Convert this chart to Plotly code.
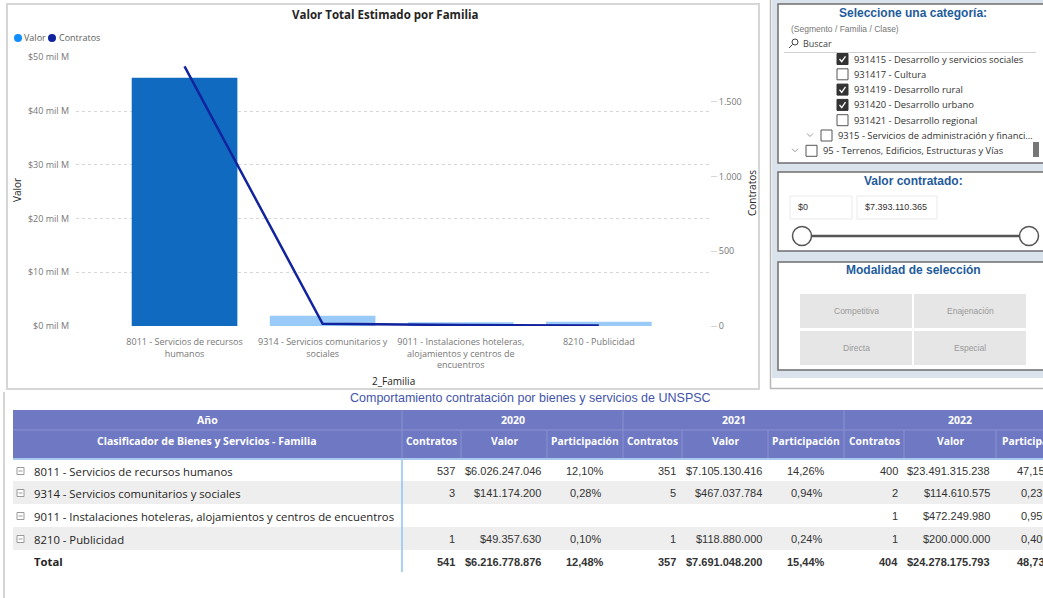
import plotly.graph_objects as go

W, H = 1043, 598

# ---- main chart data ----
familias = ["8011", "9314", "9011", "8210"]
familias_eje = [
    "8011 - Servicios de recursos<br>humanos",
    "9314 - Servicios comunitarios y<br>sociales",
    "9011 - Instalaciones hoteleras,<br>alojamientos y centros de<br>encuentros",
    "8210 - Publicidad",
]
valor_familia = [46.2e9, 1.9e9, 0.7e9, 0.8e9]
contratos_familia = [1735, 15, 6, 4]
colores_barras = ["#106BC0", "#9ACBF8", "#9ACBF8", "#9ACBF8"]

valor_ticks = [0, 10e9, 20e9, 30e9, 40e9, 50e9]
valor_ticktext = ["$0 mil M", "$10 mil M", "$20 mil M", "$30 mil M", "$40 mil M", "$50 mil M"]
contratos_ticks = [0, 500, 1000, 1500]
contratos_ticktext = ["0", "500", "1.000", "1.500"]

# ---- table data ----
filas_tabla = [
    "8011 - Servicios de recursos humanos",
    "9314 - Servicios comunitarios y sociales",
    "9011 - Instalaciones hoteleras, alojamientos y centros de encuentros",
    "8210 - Publicidad",
    "Total",
]
anios = ["2020", "2021", "2022"]
contratos_2020 = [537, 3, None, 1, 541]
valor_2020 = [6026247046, 141174200, None, 49357630, 6216778876]
part_2020 = [12.10, 0.28, None, 0.10, 12.48]
contratos_2021 = [351, 5, None, 1, 357]
valor_2021 = [7105130416, 467037784, None, 118880000, 7691048200]
part_2021 = [14.26, 0.94, None, 0.24, 15.44]
contratos_2022 = [400, 2, 1, 1, 404]
valor_2022 = [23491315238, 114610575, 472249980, 200000000, 24278175793]
part_2022 = [47.15, 0.23, 0.95, 0.40, 48.73]

# ---- slicers ----
categorias_slicer = [
    "931415 - Desarrollo y servicios sociales",
    "931417 - Cultura",
    "931419 - Desarrollo rural",
    "931420 - Desarrollo urbano",
    "931421 - Desarrollo regional",
    "9315 - Servicios de administración y financi...",
    "95 - Terrenos, Edificios, Estructuras y Vías",
]
categorias_marcadas = [True, False, True, True, False, False, False]
categorias_nivel = [2, 2, 2, 2, 2, 1, 0]
rango_valor = ["$0", "$7.393.110.365"]
modalidades = ["Competitiva", "Enajenación", "Directa", "Especial"]


def px(x):
    return x / W


def py(y):
    return 1 - y / H


def miles(n):
    return f"{n:,}".replace(",", ".")


def pct(p):
    return f"{p:.2f}".replace(".", ",") + "%"


shapes = []
ann = []


def rect(x0, y0, x1, y1, fill=None, line=None, lw=1, layer="below"):
    shapes.append(dict(type="rect", xref="paper", yref="paper",
                       x0=px(x0), x1=px(x1), y0=py(y1), y1=py(y0),
                       fillcolor=fill or "rgba(0,0,0,0)",
                       line=dict(color=line or "rgba(0,0,0,0)", width=lw if line else 0),
                       layer=layer))


def seg(x0, y0, x1, y1, color, lw=1, layer="above"):
    shapes.append(dict(type="line", xref="paper", yref="paper",
                       x0=px(x0), x1=px(x1), y0=py(y0), y1=py(y1),
                       line=dict(color=color, width=lw), layer=layer))


def circ(cx, cy, r, fill, line, lw=1):
    shapes.append(dict(type="circle", xref="paper", yref="paper", x0=px(cx - r), x1=px(cx + r),
                       y0=py(cy + r), y1=py(cy - r), fillcolor=fill,
                       line=dict(color=line, width=lw), layer="above"))


def path(pts, color, lw=1):
    d = "M " + " L ".join(f"{px(a):.5f},{py(b):.5f}" for a, b in pts)
    shapes.append(dict(type="path", xref="paper", yref="paper", path=d,
                       line=dict(color=color, width=lw), layer="above"))


def txt(x, y, s, size=10, color="#333", family="Open Sans", xa="left", bold=False, angle=0):
    if bold:
        s = f"<b>{s}</b>"
    ann.append(dict(x=px(x), y=py(y), xref="paper", yref="paper", text=s,
                    showarrow=False, xanchor=xa, yanchor="middle", textangle=angle,
                    font=dict(size=size, color=color, family=family)))


fig = go.Figure()
fig.add_trace(go.Bar(x=familias, y=valor_familia, marker=dict(color=colores_barras, line=dict(width=0)),
                     width=0.765, name="Valor"))
fig.add_trace(go.Scatter(x=familias, y=contratos_familia, yaxis="y2", mode="lines",
                         line=dict(color="#12239E", width=2.5), name="Contratos"))

# chart frame, title, legend, axis titles
rect(7, 4, 759, 389, line="#D6D6D6", lw=2)
txt(385, 15, "Valor Total Estimado por Familia", size=11.5, color="#252423", xa="center", bold=True)
circ(18, 38, 4, "#118DFF", "#118DFF", 0)
txt(22, 38, "Valor", size=9, color="#605E5C")
circ(52, 38, 4, "#12239E", "#12239E", 0)
txt(57, 38, "Contratos", size=9, color="#605E5C")
txt(17, 190, "Valor", size=10, color="#252423", xa="center", angle=-90)
txt(752, 193, "Contratos", size=10, color="#252423", xa="center", angle=-90)
txt(393, 381, "2_Familia", size=10, color="#252423", xa="center")

# ---- right panel ----
rect(772, 0, 1043, 378, fill="#DAE3EC")
seg(770.5, 0, 770.5, 389, "#B8B8B8", 1.5)
seg(770, 388.5, 1043, 388.5, "#B8B8B8", 1.5)
azul = "#1E5B9B"
for (y0, y1) in [(4, 163), (172, 251), (262, 370)]:
    rect(778, y0, 1050, y1, fill="white", line="#6E6E6E", lw=1.5)

txt(913, 13, "Seleccione una categoría:", size=12, color=azul, family="Liberation Sans", xa="center", bold=True)
txt(789, 29, "(Segmento / Familia / Clase)", size=8.5, color="#777", family="Liberation Sans")
circ(795, 42, 3, "rgba(0,0,0,0)", "#444", 1)
seg(792.5, 44.5, 789, 48, "#444", 1)
txt(801, 44, "Buscar", size=9, color="#444")
seg(784, 52.5, 1036, 52.5, "#D0D0D0", 1)

ys_items = [59, 74.3, 89.6, 104.9, 120.2, 135.5, 150.8]
box_x = {2: 837, 1: 821, 0: 806}
for nombre, marcado, nivel, yy in zip(categorias_slicer, categorias_marcadas, categorias_nivel, ys_items):
    bx = box_x[nivel]
    if nivel < 2:
        path([(bx - 14, yy - 2), (bx - 11, yy + 1), (bx - 8, yy - 2)], "#999", 1)
    if marcado:
        rect(bx, yy - 5.5, bx + 11, yy + 5.5, fill="#333", line="#333", lw=1, layer="above")
        path([(bx + 2.5, yy), (bx + 4.7, yy + 2.7), (bx + 8.5, yy - 2.7)], "white", 1.3)
    else:
        rect(bx, yy - 5.5, bx + 11, yy + 5.5, fill="white", line="#555", lw=1, layer="above")
    txt(bx + 15, yy, nombre, size=9.4, color="#333")
rect(1033, 142, 1039, 157, fill="#777", layer="above")

txt(913, 181, "Valor contratado:", size=12, color=azul, family="Liberation Sans", xa="center", bold=True)
rect(790, 196, 852, 219, fill="white", line="#EAEAEA", lw=1, layer="above")
rect(857, 196, 937, 219, fill="white", line="#EAEAEA", lw=1, layer="above")
txt(796, 207.5, rango_valor[0], size=9, color="#333", family="Liberation Sans")
txt(863, 207.5, rango_valor[1], size=9, color="#333", family="Liberation Sans")
seg(802, 236, 1029, 236, "#555", 2.5)
for cx in (802, 1029):
    circ(cx, 236, 9.5, "white", "#555", 1.5)

txt(913, 270, "Modalidad de selección", size=12, color=azul, family="Liberation Sans", xa="center", bold=True)
celdas = [(800, 294, 912, 328), (914, 294, 1026, 328), (800, 331, 912, 365), (914, 331, 1026, 365)]
for nombre, (x0, y0, x1, y1) in zip(modalidades, celdas):
    rect(x0, y0, x1, y1, fill="#E6E6E6", layer="above")
    txt((x0 + x1) / 2, (y0 + y1) / 2, nombre, size=8.5, color="#999", family="Liberation Sans", xa="center")

# ---- table ----
seg(4, 392, 4, 598, "#D6D6D6", 2)
txt(530, 398, "Comportamiento contratación por bienes y servicios de UNSPSC", size=12.5,
    color="#4454AC", family="Liberation Sans", xa="center")
cab = "#6E78C3"
rect(13, 410, 1043, 458, fill=cab)
seg(13, 430, 1043, 430, "#8A92D0", 1)
seg(13, 459, 1043, 459, "#A8C8F0", 2)
col_bordes = [13, 402, 461, 547, 623, 682, 768, 844, 904, 996, 1076]
for xb in col_bordes[1:-1]:
    seg(xb, 430, xb, 458, "#8A92D0", 1)
for xb in [402, 623, 844]:
    seg(xb, 410, xb, 430, "#8A92D0", 1)
txt(207, 420, "Año", size=10.5, color="white", xa="center", bold=True)
txt(207, 441, "Clasificador de Bienes y Servicios - Familia", size=10.5, color="white", xa="center", bold=True)
for i, a in enumerate(anios):
    x0 = col_bordes[1 + 3 * i]
    x1 = col_bordes[4 + 3 * i]
    txt((x0 + x1) / 2, 420, a, size=10.5, color="white", xa="center", bold=True)
    for j, h in enumerate(["Contratos", "Valor", "Participación"]):
        c0, c1 = col_bordes[1 + 3 * i + j], col_bordes[2 + 3 * i + j]
        txt((c0 + c1) / 2, 441, h, size=10.3, color="white", xa="center", bold=True)

filas_y = [(460, 481), (481, 504), (504, 527), (527, 550), (550, 572)]
for k, (y0, y1) in enumerate(filas_y):
    if k % 2 == 1:
        rect(13, y0, 1043, y1, fill="#EEEEEE")
seg(402, 460, 402, 572, "#8EC3F2", 1.5)

anual = [(contratos_2020, valor_2020, part_2020),
         (contratos_2021, valor_2021, part_2021),
         (contratos_2022, valor_2022, part_2022)]
for k, (nombre, (y0, y1)) in enumerate(zip(filas_tabla, filas_y)):
    yc = (y0 + y1) / 2 + 0.5
    total = nombre == "Total"
    if not total:
        rect(17, yc - 3.5, 24, yc + 3.5, fill="white", line="#9A9A9A", lw=1, layer="above")
        seg(18.5, yc, 22.5, yc, "#9A9A9A", 1)
    txt(32, yc, nombre, size=11.3, color="#252423", bold=total)
    for i, (cs, vs, ps) in enumerate(anual):
        b = col_bordes[1 + 3 * i: 5 + 3 * i]
        if cs[k] is not None:
            txt(b[1] - 4, yc, str(cs[k]), size=11, color="#333", family="Liberation Sans", xa="right", bold=total)
            txt(b[2] - 4, yc, "$" + miles(vs[k]), size=11, color="#333", family="Liberation Sans", xa="right", bold=total)
            txt((b[2] + b[3]) / 2, yc, pct(ps[k]), size=11, color="#333", family="Liberation Sans", xa="center", bold=total)

fig.update_layout(
    width=W, height=H, margin=dict(l=0, r=0, t=0, b=0, autoexpand=False),
    paper_bgcolor="white", plot_bgcolor="white", showlegend=False,
    xaxis=dict(domain=[px(76), px(710)], range=[-0.786, 3.805], showgrid=False, zeroline=False,
               tickvals=familias, ticktext=familias_eje, ticks="", ticklabelstandoff=9, automargin=False,
               tickfont=dict(size=9, color="#777", family="Open Sans")),
    yaxis=dict(domain=[py(326), py(57.3)], range=[0, 50e9], tickvals=valor_ticks, ticktext=valor_ticktext,
               showgrid=True, gridcolor="#D6D6D6", griddash="dot", zeroline=False, ticks="", automargin=False,
               ticklabelstandoff=6, tickfont=dict(size=9, color="#777", family="Open Sans")),
    yaxis2=dict(overlaying="y", side="right", anchor="x", range=[0, 1796], tickvals=contratos_ticks,
                ticktext=contratos_ticktext, showgrid=False, zeroline=False, ticks="outside", automargin=False,
                ticklen=6, tickcolor="#D6D6D6", tickfont=dict(size=9, color="#777", family="Open Sans")),
    shapes=shapes, annotations=ann,
)
fig.write_html("out.html", config={"displayModeBar": False},
               post_script="document.body.style.margin='0';document.body.style.overflow='hidden';")
